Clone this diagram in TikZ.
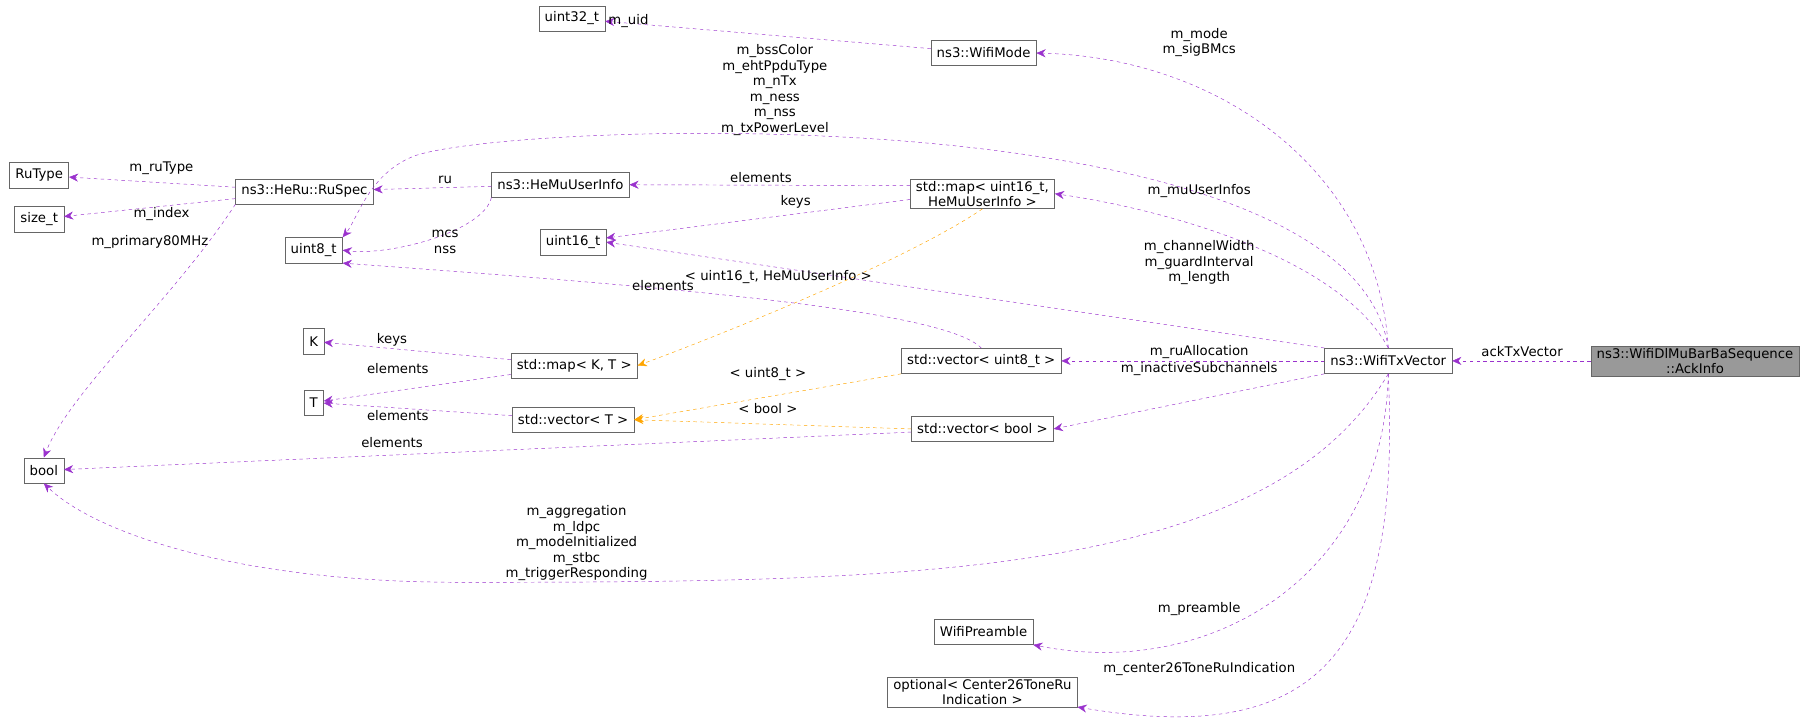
\documentclass[tikz,border=0pt]{standalone}
\usepackage{fontspec}
\setmainfont{DejaVu Sans}
\usetikzlibrary{arrows.meta}
\definecolor{usecol}{HTML}{9A32CD}
\definecolor{tplcol}{HTML}{FFA500}
\tikzset{
  cls/.style={draw=black!60, fill=white, font=\fontsize{11.5}{13}\selectfont,
    inner xsep=5pt, inner ysep=2pt, minimum height=22pt, align=center},
  usage/.style={draw=usecol, dashed, -{Stealth[length=8pt,width=7pt]}},
  tmpl/.style={draw=tplcol, dashed, -{Stealth[length=8pt,width=7pt]}},
  lbl/.style={font=\fontsize{11.5}{13.5}\selectfont, align=center, inner sep=1pt}
}
\begin{document}
\begin{tikzpicture}[x=1pt,y=-1pt]
  \useasboundingbox (0,0) rectangle (1568,630);

  % classes
  \node[cls] (uint32) at (496,16) {uint32\_t};
  \node[cls] (mode) at (853,46) {ns3::WifiMode};
  \node[cls] (rutype) at (34,152) {RuType};
  \node[cls] (sizet) at (34,190) {size\_t};
  \node[cls] (ruspec) at (264,166) {ns3::HeRu::RuSpec};
  \node[cls] (hemu) at (486,160) {ns3::HeMuUserInfo};
  \node[cls] (mapu16) at (852,168) {std::map< uint16\_t,\\HeMuUserInfo >};
  \node[cls] (uint8) at (272,217) {uint8\_t};
  \node[cls] (uint16) at (497,210) {uint16\_t};
  \node[cls] (keyk) at (272,296) {K};
  \node[cls] (mapkt) at (498,317) {std::map< K, T >};
  \node[cls] (valt) at (272,349) {T};
  \node[cls] (vecu8) at (851,313) {std::vector< uint8\_t >};
  \node[cls] (txvec) at (1204,313) {ns3::WifiTxVector};
  \node[cls, fill=black!40] (ackinfo) at (1470,313) {ns3::WifiDlMuBarBaSequence\\::AckInfo};
  \node[cls] (vect) at (497,364) {std::vector< T >};
  \node[cls] (vecbool) at (852,372) {std::vector< bool >};
  \node[cls] (bool) at (38,408) {bool};
  \node[cls] (preamble) at (853,548) {WifiPreamble};
  \node[cls] (optional) at (852,600) {optional< Center26ToneRu\\Indication >};

  % members
  \draw[usage] (mode) -- (uint32);
  \node[lbl] (l-uid) at (545,18) {m\_uid};
  \draw[usage] (txvec.north) .. controls (1195,150) and (1060,50) .. (mode.east);
  \node[lbl] (l-mode) at (1040,37) {m\_mode\\m\_sigBMcs};
  \draw[usage] (txvec.north) .. controls (1170,80) and (450,105) .. (360,135) .. controls (320,150) and (310,190) .. (uint8.north east);
  \node[lbl] (l-bss) at (672,78) {m\_bssColor\\m\_ehtPpduType\\m\_nTx\\m\_ness\\m\_nss\\m\_txPowerLevel};
  \draw[usage] (ruspec) -- (rutype);
  \node[lbl] (l-rutype) at (140,146) {m\_ruType};
  \draw[usage] (ruspec) -- (sizet);
  \node[lbl] (l-index) at (140,186) {m\_index};
  \draw[usage] (ruspec.south west) .. controls (150,260) and (60,340) .. (bool.north);
  \node[lbl] (l-p80) at (130,210) {m\_primary80MHz};
  \draw[usage] (hemu) -- (ruspec);
  \node[lbl] (l-ru) at (386,156) {ru};
  \draw[usage] (hemu.south west) .. controls (420,200) and (340,222) .. (uint8.east);
  \node[lbl] (l-mcs) at (386,210) {mcs\\nss};
  \draw[usage] (mapu16.west) ++(0,-7) coordinate (m1) -- (hemu);
  \node[lbl] (l-el1) at (660,154) {elements};
  \draw[usage] (mapu16.west) ++(0,5) coordinate (m2) -- (uint16);
  \node[lbl] (l-keys1) at (690,175) {keys};
  \draw[usage] (txvec.north) .. controls (1160,220) and (1000,180) .. (mapu16.east);
  \node[lbl] (l-muui) at (1040,166) {m\_muUserInfos};
  \draw[usage] (txvec.north west) -- (uint16.east);
  \node[lbl] (l-chw) at (1040,228) {m\_channelWidth\\m\_guardInterval\\m\_length};
  \draw[usage] (vecu8.north) .. controls (820,270) and (600,250) .. (uint8.south east);
  \node[lbl] (l-el2) at (575,248) {elements};
  \draw[usage] (mapkt) -- (keyk);
  \node[lbl] (l-keys2) at (340,295) {keys};
  \draw[usage] (mapkt) -- (valt);
  \node[lbl] (l-el3) at (345,320) {elements};
  \draw[usage] (vect) -- (valt);
  \node[lbl] (l-el4) at (345,360) {elements};
  \draw[usage] (vecbool) -- (bool);
  \node[lbl] (l-el5) at (340,384) {elements};
  \draw[usage] (txvec) -- (vecu8);
  \node[lbl] (l-rua) at (1040,305) {m\_ruAllocation};
  \draw[usage] (txvec.south west) -- (vecbool.east);
  \node[lbl] (l-inact) at (1040,320) {m\_inactiveSubchannels};
  \draw[usage] (txvec.south) .. controls (1100,500) and (800,505) .. (400,505) .. controls (200,505) and (80,460) .. (bool.south);
  \node[lbl] (l-agg) at (500,471) {m\_aggregation\\m\_ldpc\\m\_modeInitialized\\m\_stbc\\m\_triggerResponding};
  \draw[usage] (txvec.south) .. controls (1200,500) and (1050,590) .. (preamble.south east);
  \node[lbl] (l-pre) at (1040,528) {m\_preamble};
  \draw[usage] (txvec.south) .. controls (1215,560) and (1150,650) .. (optional.south east);
  \node[lbl] (l-c26) at (1040,580) {m\_center26ToneRuIndication};
  \draw[usage] (ackinfo) -- (txvec);
  \node[lbl] (l-ack) at (1320,305) {ackTxVector};

  % template instances
  \draw[tmpl] (mapu16.south) .. controls (780,230) and (600,300) .. (mapkt.east);
  \node[lbl] (l-tu16) at (675,240) {< uint16\_t, HeMuUserInfo >};
  \draw[tmpl] (vecu8.south west) -- (vect.east);
  \node[lbl] (l-tu8) at (666,324) {< uint8\_t >};
  \draw[tmpl] (vecbool.west) -- (vect.east);
  \node[lbl] (l-tb) at (666,354) {< bool >};
\end{tikzpicture}
\end{document}
